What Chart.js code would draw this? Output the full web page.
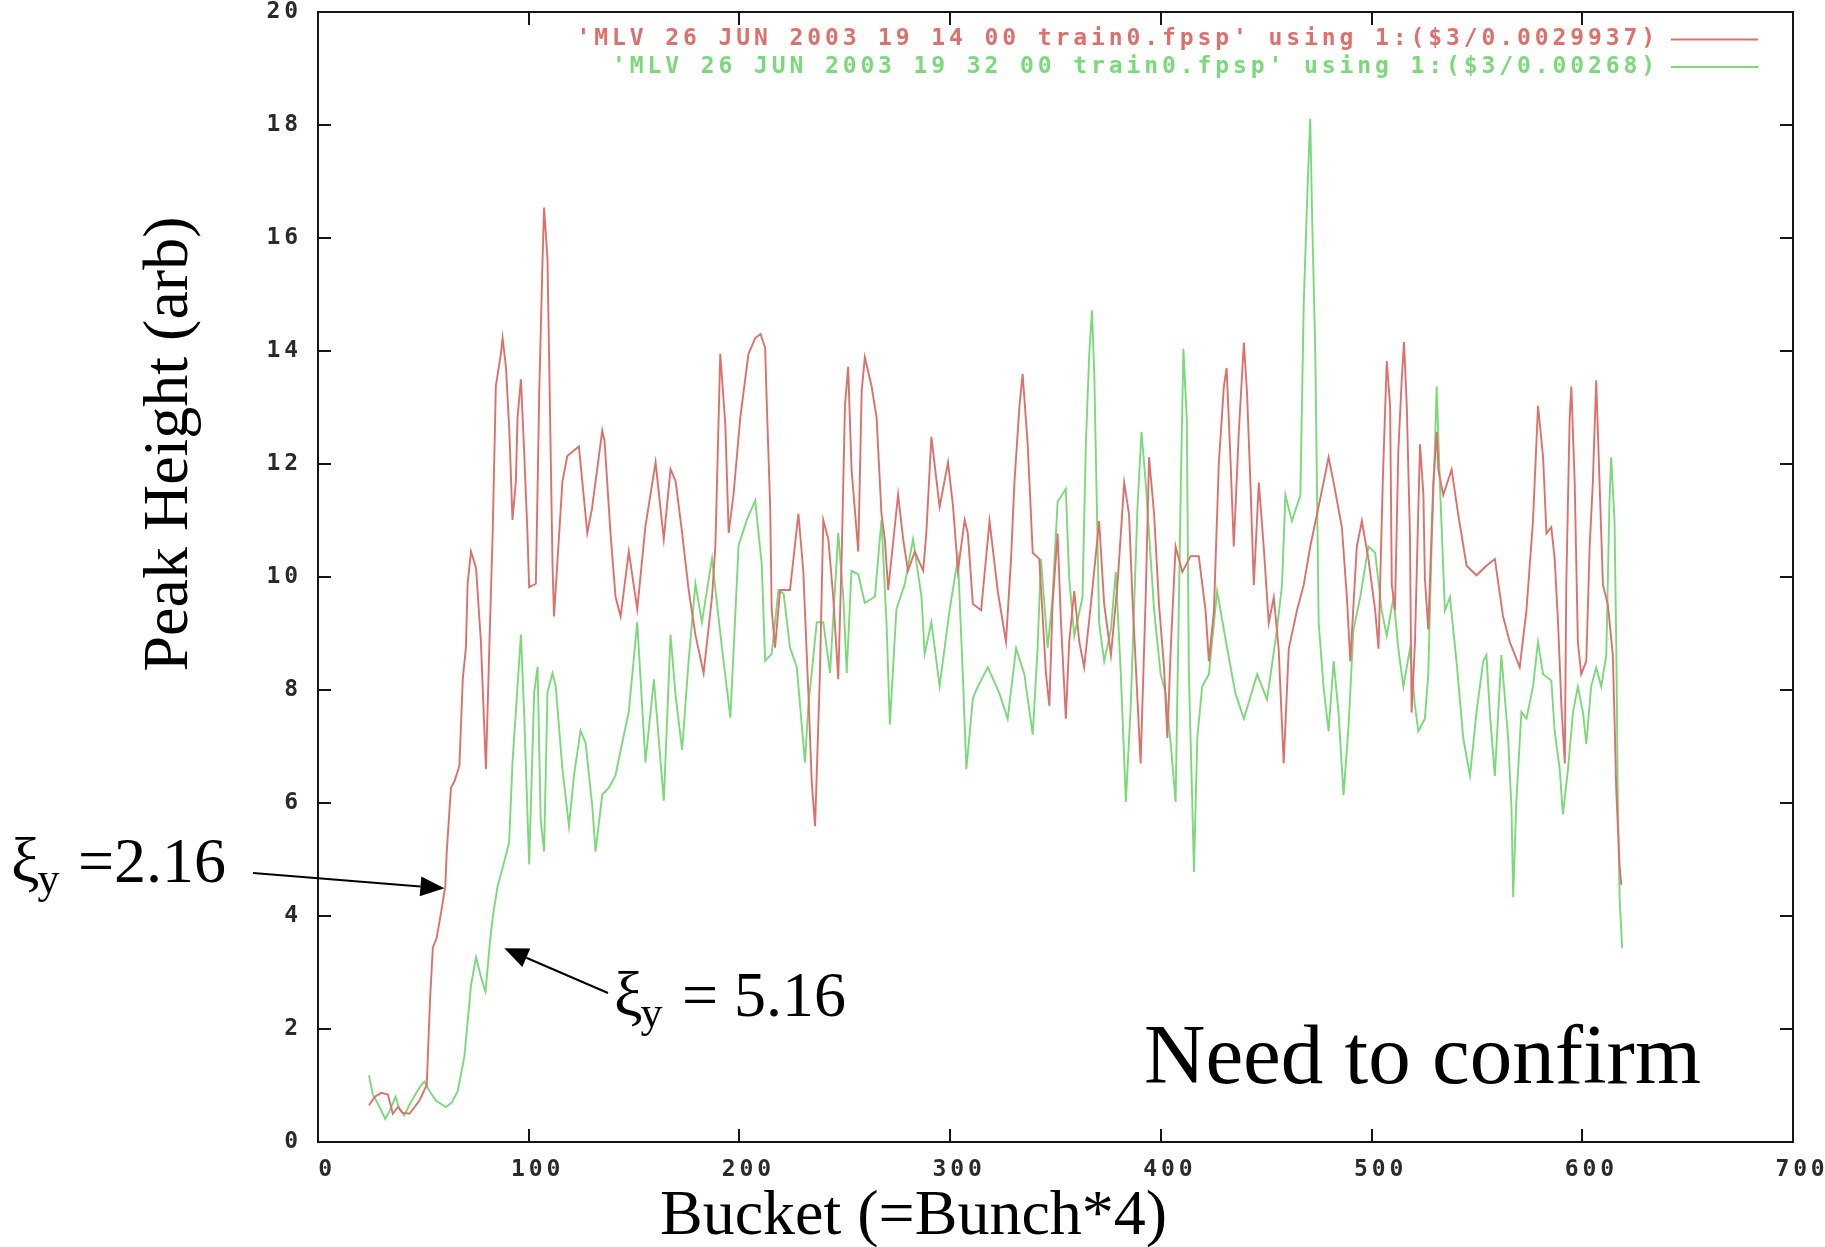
<!DOCTYPE html>
<html>
<head>
<meta charset="utf-8">
<script src="https://cdn.jsdelivr.net/npm/chart.js@4.4.0/dist/chart.umd.min.js"></script>
<style>
  html, body { margin: 0; padding: 0; background: #fff; overflow: hidden; }
  #wrap { position: relative; width: 1825px; height: 1247px; }
  canvas { display: block; }
</style>
</head>
<body>
<div id="wrap"><canvas id="c" width="1825" height="1247"></canvas></div>
<script>
// Peak height per bucket, run of 19:14
const redBucket = [24.2,27,30,33.2,35.5,38,40,43.4,48.1,51.6,53.2,54.5,56.3,58.4,60.4,61.1,63.1,64.7,67.1,68.7,
  70.2,71,72.6,75,77.3,79.7,81.3,82.9,84.4,86.8,87.6,89.2,90.8,92.3,93.9,94.7,96.3,97.8,99.4,100.2,
  103.4,105,106.5,107.3,108.9,109.7,111.3,112,116,118.3,123.8,127.8,130,134.9,136,138.8,141.2,143.6,147.5,151.5,
  155.4,160.2,164.1,167.3,169.7,172.8,175.9,179.1,183,187,188.6,190.9,193.3,194.9,197.2,200.4,204.3,207.5,210,212.2,
  213,214.6,215.3,216.9,219.3,224,228,230.3,232.7,234.3,235.9,238.2,239.8,242.2,244.5,246.9,248.5,250.1,251.6,253.2,
  256.4,258,259.5,262.7,265.1,267.4,269,270.6,275.3,277.7,280,283.2,287.2,288.7,291.1,295,299,301.4,303.7,306.9,
  308.4,310.8,314.7,318.7,322.6,326.5,328.9,330.5,332.9,334.4,336.8,339.2,342.3,345.5,347.1,348.6,351,352.6,354.9,356.5,
  358.9,361.3,363.6,366.8,370.7,373.1,376.3,379.4,382.6,384.9,386.5,388.9,390.4,392.8,394.4,396.8,399.1,401.5,403.1,404.7,
  407,410.2,414.1,418,421.2,422.8,425.2,427.5,429.9,431.2,433,434.6,437,439.4,440.9,442.5,444.1,446.5,448.8,451.2,
  453.6,455.9,458.3,460.7,464.6,467.8,470.9,474.1,477.2,479.6,482,485.9,488.3,489.9,493,495.4,498.5,501.7,503.3,505.3,
  507.2,508.8,509.6,511.1,512.7,514.3,515.4,516.7,518.2,519,520.6,522.2,523,524.6,525.3,526.9,529.3,530.9,531.7,534,
  538,541.1,545.1,549.8,554.5,558.5,562.4,565.6,570.3,573.5,576.6,579,581.4,583,585.3,586.9,588.5,590.1,591.7,592.4,
  594,594.8,596.4,597.9,599.5,601.9,603.5,605,606.6,608.2,609.8,612.1,614.5,615.3,616.1,617.7,618.5];
const redHeight = [0.65,0.8,0.87,0.84,0.5,0.62,0.52,0.5,0.73,1.01,2.54,3.44,3.61,4.06,4.52,5.14,6.27,6.38,6.66,8.19,
  8.75,9.88,10.45,10.16,8.86,6.6,8.75,10.78,13.38,13.95,14.23,13.72,12.59,11.01,11.69,12.82,13.5,12.25,10.78,9.82,
  9.88,13.27,15.53,16.54,15.64,13.83,10.22,9.3,11.69,12.14,12.31,10.78,11.2,12.59,12.4,10.78,9.65,9.3,10.45,9.43,
  10.9,12.03,10.67,11.91,11.7,10.78,9.77,8.98,8.3,9.65,10.56,13.95,12.7,10.78,11.46,12.82,13.95,14.23,14.3,14.06,
  13.04,11.24,9.43,8.75,9.77,9.77,11.12,10.11,7.96,6.38,5.59,8.3,11.01,10.67,9.65,8.19,10.33,13.04,13.72,11.91,
  10.45,13.27,13.89,13.38,12.82,11.12,10.67,9.77,11.46,10.67,10.11,10.45,10.11,10.78,12.48,11.24,12.03,11.24,10.11,11.01,
  10.77,9.52,9.41,10.99,9.75,8.85,10.32,11.67,13.03,13.59,12.35,10.43,10.32,8.28,7.72,9.52,10.77,9.19,7.49,8.85,
  9.75,8.85,8.4,9.52,10.99,9.52,8.62,9.86,11.67,11.11,9.64,7.83,6.7,9.64,12.12,11.11,9.52,8.4,7.15,8.74,
  10.54,10.09,10.37,10.37,9.41,8.51,9.41,12.01,13.37,13.7,12.12,10.54,12.57,14.15,13.25,11.67,9.86,11.67,10.54,9.19,
  9.64,8.73,6.7,8.73,9.41,9.86,10.54,11.11,11.67,12.12,11.67,10.88,9.64,8.51,10.54,10.99,10.32,9.41,8.73,11.67,
  13.82,13.03,9.86,9.41,12.23,13.48,14.16,13.03,10.77,7.6,8.85,11.22,12.35,11.45,9.98,9.07,11.67,12.57,11.9,11.45,
  11.9,11.11,10.2,10.03,10.2,10.32,9.3,8.85,8.4,9.41,10.99,13.03,12.12,10.77,10.88,10.32,9.19,7.72,6.7,9.86,
  12.8,13.37,11.67,8.85,8.28,8.51,10.54,11.67,13.48,11.67,9.86,9.52,8.62,7.49,6.25,4.9,4.55];

// Peak height per bucket, run of 19:32
const greenBucket = [24.2,26,29.2,31.9,34,36.8,38.5,40.9,44,48.1,50.5,53,56,60.8,63.5,66.3,69.5,72.6,75,77.5,
  79.5,81.5,83,85.2,87.6,90.7,92.3,93.9,96.3,97.8,100.2,102.6,104.2,105.7,107.3,108.9,111.3,112.8,116,119.1,
  121.5,124.6,127,130.2,131.7,134.9,138.1,141.2,144,147.5,151.5,155.4,159.4,164.1,167.3,169.7,172.8,175.9,179.1,182.2,
  187,189.3,191.7,195.7,199.6,203.5,207.5,210.6,212.2,215.3,218.5,221,224,227.2,231.1,232.7,234.3,236.7,239.8,243,
  246.9,249.3,250.9,253.2,256.4,259.5,264.3,267.4,269.8,271.4,274.5,278.5,282.4,286.4,287.9,291.1,295,299.8,303.7,306.1,
  307.7,310.8,313.1,317.9,323.4,327.3,331.3,335.2,339.2,341.5,343.1,346.3,348.5,351,354.9,356.5,358.9,362.8,364.4,366,
  367.3,368.4,370.7,373.1,376.3,378.6,381,383.4,385.7,388.9,390.8,392.8,396.8,399.9,402.3,404.7,407,409.4,410.7,412.3,
  413.3,414.9,415.7,417.3,419.6,422.8,426.7,431.5,435.4,439.4,445.7,450.4,455.1,457.5,459.1,462.2,466.2,467.8,469.7,470.9,
  471.7,473.3,474.9,477.2,479.6,482,484.3,486.7,489.1,491.4,494.6,498.5,501.7,504.8,507.2,510.4,512.7,515.1,518.2,520.6,
  522.2,525.3,526.9,528.5,530.1,530.9,532.4,534.8,537.2,540.3,543.5,546.7,549.8,553,554.5,556.1,558.5,561.6,564.8,566.4,
  567.2,568.7,571.1,573.5,576.6,579,581.4,585.3,586.9,589.3,590.8,593.2,595.6,597.9,600.3,601.9,604.2,606.6,609,611.4,
  612.9,613.7,615.3,616.1,616.9,617.7,618.9];
const greenHeight = [1.18,0.84,0.62,0.41,0.55,0.8,0.6,0.47,0.7,0.96,1.07,0.9,0.73,0.62,0.7,0.9,1.52,2.77,3.27,2.9,
  2.66,3.5,4.0,4.52,4.85,5.3,6.72,7.62,8.98,7.62,4.91,7.96,8.41,5.7,5.14,7.96,8.3,8.07,6.6,5.59,
  6.5,7.28,7.06,5.93,5.14,6.15,6.27,6.49,7.0,7.62,9.2,6.72,8.19,6.04,8.98,7.9,6.94,8.52,9.88,9.2,
  10.33,9.54,8.75,7.51,10.56,11.01,11.35,10.22,8.52,8.64,9.77,9.7,8.75,8.41,6.72,7.73,8.3,9.2,9.2,8.3,
  10.78,9.65,8.3,10.11,10.05,9.54,9.65,11.01,9.2,7.39,9.43,9.88,10.67,9.65,8.64,9.2,8.07,9.43,10.33,8.19,
  6.6,7.85,8.06,8.4,7.94,7.49,8.74,8.28,7.21,8.74,10.32,8.74,9.6,11.33,11.56,9.98,8.96,9.64,12.35,13.93,
  14.72,13.59,9.19,8.51,9.07,10.09,8.28,6.02,7.72,11.22,12.57,11.67,9.41,8.28,7.94,7.04,6.02,11.45,14.04,12.8,
  8.28,6.02,4.78,7.15,8.06,8.28,9.75,8.73,7.94,7.49,8.28,7.83,9.07,9.86,11.45,10.99,11.45,14.83,16.98,18.11,
  16.53,13.93,9.19,8.06,7.27,8.51,7.61,6.14,7.38,9.07,9.64,10.54,10.43,9.41,8.96,9.64,8.73,8.06,8.73,7.72,
  7.27,7.49,8.28,10.54,12.35,13.37,11.67,9.41,9.64,8.51,7.15,6.48,7.61,8.51,8.62,7.61,6.48,8.62,7.15,5.91,
  4.33,6.02,7.61,7.49,8.06,8.85,8.28,8.17,7.27,6.59,5.8,6.59,7.61,8.06,7.61,7.04,8.06,8.4,8.06,8.62,
  11.33,12.12,10.99,8.85,6.02,4.33,3.43];

const xTicks = [0, 100, 200, 300, 400, 500, 600, 700];
const yTicks = [0, 2, 4, 6, 8, 10, 12, 14, 16, 18, 20];
const seriesLabels = [
  "'MLV 26 JUN 2003 19 14 00 train0.fpsp' using 1:($3/0.0029937)",
  "'MLV 26 JUN 2003 19 32 00 train0.fpsp' using 1:($3/0.00268)"
];
const seriesColors = ['rgb(222,112,108)', 'rgb(122,218,122)'];
const xTitle = 'Bucket (=Bunch*4)';
const yTitle = 'Peak Height (arb)';
const note = 'Need to confirm';
// annotated tune shifts: label value and the point (bucket, height) each arrow reaches
const arrowNotes = [
  { value: '=2.16', bucket: 60.0, height: 4.49 },
  { value: '= 5.16', bucket: 88.4, height: 3.43 }
];

const MONO = '"DejaVu Sans Mono", "Liberation Mono", monospace';
const SERIF = '"Liberation Serif", "Times New Roman", serif';
const SPACING = '3.9px';
const TICK_FONT = { family: MONO, size: 23, weight: 'bold' };

function pairs(xs, ys) { return xs.map((v, i) => ({ x: v, y: ys[i] })); }

const gnuplotFrame = {
  id: 'gnuplotFrame',
  beforeDraw(chart) {
    chart.ctx.letterSpacing = SPACING;
  },
  beforeDatasetsDraw(chart) {
    const { ctx, chartArea: a, scales: { x, y } } = chart;
    ctx.save();
    ctx.strokeStyle = '#151515';
    ctx.lineWidth = 2;
    ctx.strokeRect(a.left, a.top, a.right - a.left, a.bottom - a.top);
    ctx.beginPath();
    const len = 13;
    x.ticks.forEach(t => {
      const px = Math.round(x.getPixelForValue(t.value));
      ctx.moveTo(px, a.bottom); ctx.lineTo(px, a.bottom - len);
      ctx.moveTo(px, a.top); ctx.lineTo(px, a.top + len);
    });
    y.ticks.forEach(t => {
      const py = Math.round(y.getPixelForValue(t.value));
      ctx.moveTo(a.left, py); ctx.lineTo(a.left + len, py);
      ctx.moveTo(a.right, py); ctx.lineTo(a.right - len, py);
    });
    ctx.stroke();
    ctx.restore();
  },
  afterDatasetsDraw(chart) {
    // key in the top right corner: text, then a sample of the line
    const { ctx } = chart;
    ctx.save();
    ctx.font = 'bold 23px ' + MONO;
    ctx.letterSpacing = SPACING;
    ctx.textAlign = 'right';
    ctx.textBaseline = 'middle';
    const rows = [39.5, 67];
    chart.data.datasets.forEach((ds, i) => {
      ctx.fillStyle = ds.borderColor;
      ctx.fillText(ds.label, 1659, rows[i]);
      ctx.strokeStyle = ds.borderColor;
      ctx.lineWidth = 2;
      ctx.beginPath();
      ctx.moveTo(1671, rows[i]);
      ctx.lineTo(1758, rows[i]);
      ctx.stroke();
    });
    ctx.restore();
  },
  afterDraw(chart) {
    const { ctx, scales: { x, y } } = chart;
    ctx.save();
    ctx.letterSpacing = '0px';
    ctx.fillStyle = '#000';
    ctx.textBaseline = 'alphabetic';

    // axis titles
    ctx.font = '64px ' + SERIF;
    ctx.textAlign = 'left';
    ctx.fillText(xTitle, 660, 1234);
    ctx.save();
    ctx.translate(187, 444);
    ctx.rotate(-Math.PI / 2);
    ctx.textAlign = 'center';
    ctx.fillText(yTitle, 0, 0);
    ctx.restore();

    ctx.font = '85px ' + SERIF;
    ctx.fillText(note, 1144, 1083);

    // tune shift labels with arrows
    const spots = [
      { tx: 11, base: 882, vx: 78, ax: 253, ay: 873 },
      { tx: 614, base: 1016, vx: 682, ax: 608, ay: 993 }
    ];
    arrowNotes.forEach((n, i) => {
      const s = spots[i];
      ctx.font = '64px ' + SERIF;
      ctx.fillText('\u03BE', s.tx, s.base);
      const w = ctx.measureText('\u03BE').width;
      ctx.font = '44px ' + SERIF;
      ctx.fillText('y', s.tx + w - 2, s.base + 11);
      ctx.font = '64px ' + SERIF;
      ctx.fillText(n.value, s.vx, s.base);

      const px = x.getPixelForValue(n.bucket);
      const py = y.getPixelForValue(n.height);
      const ang = Math.atan2(py - s.ay, px - s.ax);
      const headLen = 24, headHalf = 10;
      const bx = px - headLen * Math.cos(ang), by = py - headLen * Math.sin(ang);
      ctx.strokeStyle = '#000';
      ctx.lineWidth = 2;
      ctx.beginPath();
      ctx.moveTo(s.ax, s.ay);
      ctx.lineTo(bx, by);
      ctx.stroke();
      ctx.beginPath();
      ctx.moveTo(px, py);
      ctx.lineTo(bx + headHalf * Math.sin(ang), by - headHalf * Math.cos(ang));
      ctx.lineTo(bx - headHalf * Math.sin(ang), by + headHalf * Math.cos(ang));
      ctx.closePath();
      ctx.fill();
    });
    ctx.restore();
  }
};

new Chart(document.getElementById('c'), {
  type: 'line',
  data: {
    datasets: [
      { label: seriesLabels[0], data: pairs(redBucket, redHeight), borderColor: seriesColors[0] },
      { label: seriesLabels[1], data: pairs(greenBucket, greenHeight), borderColor: seriesColors[1] }
    ]
  },
  options: {
    responsive: false,
    animation: false,
    devicePixelRatio: 1,
    layout: { padding: { top: 12, right: 32, left: 0, bottom: 0 } },
    elements: {
      line: { borderWidth: 1.9, tension: 0, fill: false },
      point: { radius: 0, hoverRadius: 0 }
    },
    plugins: { legend: { display: false }, tooltip: { enabled: false } },
    events: [],
    scales: {
      x: {
        type: 'linear', min: 0, max: 700,
        afterBuildTicks(s) { s.ticks = xTicks.map(v => ({ value: v })); },
        afterFit(s) { s.height = 105; s.paddingLeft = 0; s.paddingRight = 0; },
        grid: { display: false, drawTicks: false },
        border: { display: false },
        ticks: { autoSkip: false, maxRotation: 0, padding: 14, labelOffset: 9,
                 color: '#2a2a2a', font: TICK_FONT }
      },
      y: {
        type: 'linear', min: 0, max: 20,
        afterBuildTicks(s) { s.ticks = yTicks.map(v => ({ value: v })); },
        afterFit(s) { s.width = 318; s.paddingTop = 0; s.paddingBottom = 0; },
        grid: { display: false, drawTicks: false },
        border: { display: false },
        ticks: { autoSkip: false, padding: 16, color: '#2a2a2a', font: TICK_FONT }
      }
    }
  },
  plugins: [gnuplotFrame]
});
</script>
</body>
</html>
